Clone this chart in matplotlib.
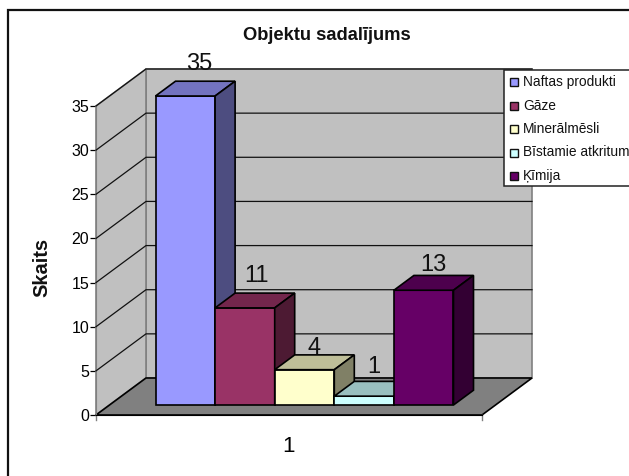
import matplotlib
matplotlib.use('Agg')
import matplotlib.pyplot as plt
from matplotlib.patches import Polygon, Rectangle

plt.rcParams['font.family'] = ['Liberation Sans', 'DejaVu Sans']

categories = ['1']
series_names = ['Naftas produkti', 'Gāze', 'Minerālmēsli', 'Bīstamie atkritum', 'Ķīmija']
series_values = [35, 11, 4, 1, 13]
y_ticks = [0, 5, 10, 15, 20, 25, 30, 35]
front_colors = ['#9999FF', '#993366', '#FFFFCC', '#CCFFFF', '#660066']
top_colors = ['#7373BF', '#73264C', '#BFBF99', '#99BFBF', '#4D004D']
side_colors = ['#4D4D80', '#4D1A33', '#808066', '#668080', '#330033']

W, H = 629, 476
fig = plt.figure(figsize=(W / 100, H / 100), dpi=100)
fig.patch.set_facecolor('white')

# frame of the chart, in pixels (only top and left fall inside the picture)
bg = fig.add_axes([0, 0, 1, 1])
bg.set_xlim(0, W)
bg.set_ylim(H, 0)
bg.axis('off')
bg.add_patch(Rectangle((8, 10), 800, 600, fc='white', ec='#111111', lw=1.6))

# front plane of the box: x in pixels from the left edge, y in values
left, right, base, top = 96, 482, 415, 106
ax = fig.add_axes([left / W, 1 - base / H, (right - left) / W, (base - top) / H])
ax.set_xlim(0, right - left)
ax.set_ylim(0, 35)
ax.patch.set_alpha(0)
px = (base - top) / 35

def depth(x, v, d):
    # d = 0 front of the box, 1 back wall
    return (x + 50 * d, v + 37 / px * d)

def poly(pts, fc, lw=1.2, ec='black', z=2):
    ax.add_patch(Polygon(pts, closed=True, fc=fc, ec=ec, lw=lw, clip_on=False, zorder=z, joinstyle='miter'))

w = right - left
poly([depth(0, 0, 1), depth(w, 0, 1), depth(w, 35, 1), depth(0, 35, 1)], '#C0C0C0', ec='#808080')
poly([depth(0, 0, 0), depth(0, 0, 1), depth(0, 35, 1), depth(0, 35, 0)], '#C0C0C0', ec='#808080')
poly([depth(0, 0, 0), depth(0, 0, 1), depth(w, 0, 1), depth(w, 0, 0)], '#808080')
for t in y_ticks[1:]:
    a, b = depth(0, t, 0), depth(0, t, 1)
    c = depth(w, t, 1)
    ax.plot([a[0], b[0], c[0]], [a[1], b[1], c[1]], color='#111111', lw=0.9, clip_on=False, zorder=3)

# bars: one block per series, placed side by side
d0, d1 = 0.27, 0.67
bar_left = 46
bar_w = 59.6
nudge_x = [2, 0, -2, -2, -2]
nudge_y = [0, 0, -10, -3, -7]
for i, v in enumerate(series_values):
    x0 = bar_left + i * bar_w
    x1 = x0 + bar_w
    z = 4 + i
    poly([depth(x0, 0, d0), depth(x1, 0, d0), depth(x1, v, d0), depth(x0, v, d0)], front_colors[i], z=z)
    poly([depth(x0, v, d0), depth(x1, v, d0), depth(x1, v, d1), depth(x0, v, d1)], top_colors[i], z=z)
    poly([depth(x1, 0, d0), depth(x1, 0, d1), depth(x1, v, d1), depth(x1, v, d0)], side_colors[i], z=z)
    lx, ly = depth(x0 + bar_w / 2, v, d1)
    ax.text(lx - 8 + nudge_x[i], ly + 0.7 + nudge_y[i] / px, str(v), ha='center', va='bottom',
            fontsize=17, color='#111111', zorder=20)

ax.set_yticks(y_ticks)
ax.set_xticks([w / 2], categories)
for s in ['top', 'right']:
    ax.spines[s].set_visible(False)
ax.spines['left'].set_color('#808080')
ax.spines['bottom'].set_color('black')
ax.spines['bottom'].set_zorder(3)
ax.tick_params(axis='y', labelsize=11.5, length=4, width=0.9, color='black', pad=1)
ax.tick_params(axis='x', labelsize=16, length=0, pad=15)
ax.plot([0, 0], [0, -0.6], color='#808080', lw=1, clip_on=False)
ax.plot([w, w], [0, -0.6], color='#808080', lw=1, clip_on=False)
ax.set_ylabel('Skaits', fontsize=14.5, fontweight='bold', color='#111111')
ax.yaxis.set_label_coords(-0.115, 0.476)

bg.text(327, 35, 'Objektu sadalījums', ha='center', va='center', fontsize=13.2, fontweight='bold', color='#111111')

# legend box runs past the edge of the picture
leg = fig.add_axes([0, 0, 1, 1])
leg.set_xlim(0, W)
leg.set_ylim(H, 0)
leg.axis('off')
leg.patch.set_alpha(0)
leg.add_patch(Rectangle((504, 70), 200, 116, fc='white', ec='#222222', lw=1.1))
for i, name in enumerate(series_names):
    y = 82 + i * 23.5
    leg.add_patch(Rectangle((510, y - 4), 8, 8, fc=front_colors[i], ec='#111111', lw=1))
    leg.text(523, y, name, ha='left', va='center', fontsize=9.9, color='#111111')

fig.savefig('out.png', dpi=100)
